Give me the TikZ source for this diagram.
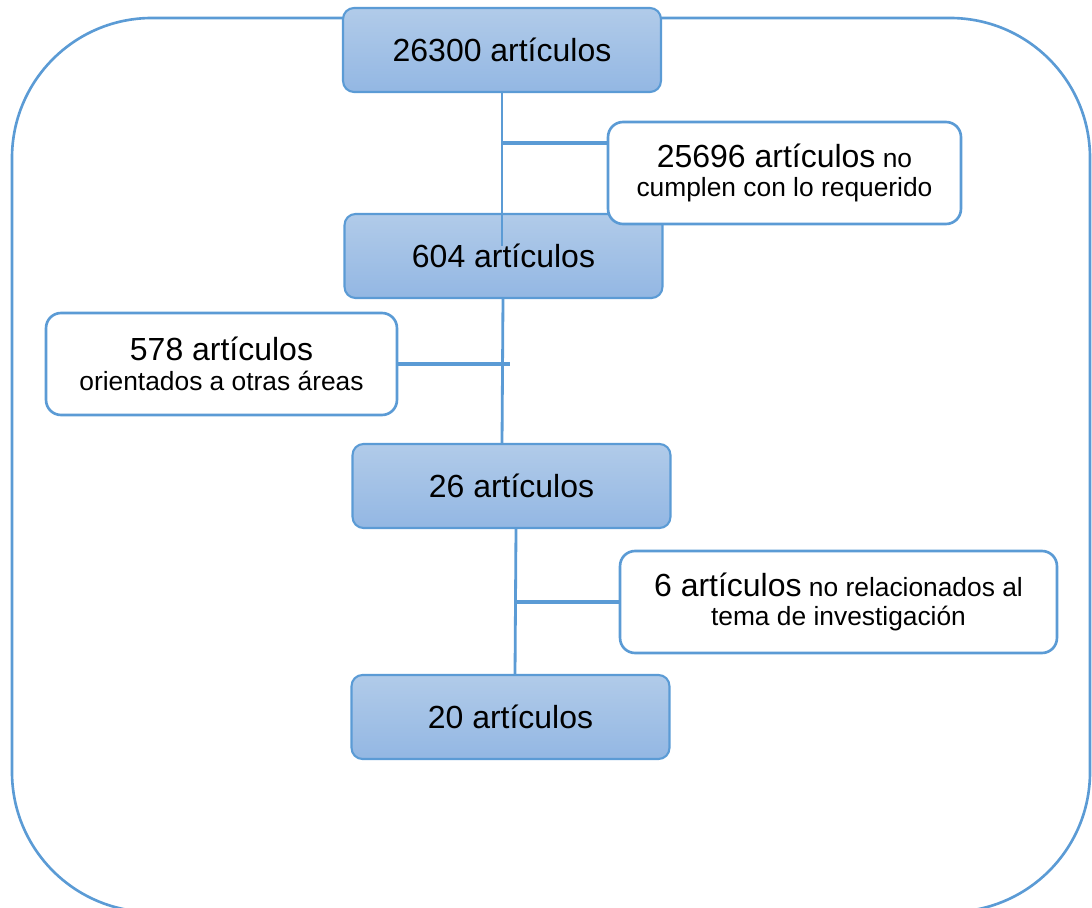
\documentclass[tikz,border=0pt]{standalone}
\usepackage{fontspec}
\setmainfont{Liberation Sans}
\definecolor{edgeblue}{HTML}{5B9BD5}
\definecolor{filltop}{HTML}{B1CBE9}
\definecolor{fillbot}{HTML}{93B7E3}
\tikzset{
  mainbox/.style={draw=edgeblue, line width=1.2pt, rounded corners=0.22cm,
    top color=filltop, bottom color=fillbot, minimum width=6.36cm, minimum height=1.68cm,
    inner sep=0pt, align=center, font=\fontsize{18.2}{20}\selectfont},
  sidebox/.style={draw=edgeblue, line width=1.5pt, rounded corners=0.3cm, fill=white,
    minimum height=2.04cm, inner sep=0pt, align=center, font=\fontsize{15}{17}\selectfont},
  link/.style={draw=edgeblue, line width=1.6pt},
  hlink/.style={draw=edgeblue, line width=1.8pt},
  frame/.style={draw=edgeblue, line width=1.5pt, rounded corners=2.8cm}
}
\newcommand{\bigtxt}[1]{{\fontsize{18.2}{17}\selectfont #1}}
\begin{document}
\begin{tikzpicture}[x=0.02cm,y=-0.02cm]
\useasboundingbox (0,0) rectangle (1092,908);
\clip (0,0) rectangle (1092,908);
\draw[frame] (12,18) rectangle (1090,912);
% main boxes
\node[mainbox] (b1) at (502,50) {26300 artículos};
\node[mainbox] (b2) at (503.5,256) {604 artículos};
\node[mainbox] (b3) at (511.5,486) {26 artículos};
\node[mainbox] (b4) at (510.5,717) {20 artículos};
% side boxes
\node[sidebox, minimum width=7.06cm] (s1) at (784.5,173) {\bigtxt{25696 artículos} no\\cumplen con lo requerido};
\node[sidebox, minimum width=7.02cm] (s2) at (221.5,364) {\bigtxt{578 artículos}\\orientados a otras áreas};
\node[sidebox, minimum width=8.74cm] (s3) at (838.5,602) {\bigtxt{6 artículos} no relacionados al\\tema de investigación};
% connector coordinates
\coordinate (c1) at (502,246);
\coordinate (j1) at (502,143);
\coordinate (c2t) at (503,298);
\coordinate (c2b) at (502,444);
\coordinate (c2r) at (510,364);
\coordinate (c3t) at (516,528);
\coordinate (c3b) at (515,675);
% connectors
\draw[link] (b1.south) -- (c1);
\draw[hlink] (j1) -- (j1 -| s1.west);
\draw[link] (c2t) -- (c2b);
\draw[hlink] (s2.east) -- (c2r);
\draw[link] (c3t) -- (c3b);
\draw[hlink] (c3t |- s3.west) -- (s3.west);
\end{tikzpicture}
\end{document}
